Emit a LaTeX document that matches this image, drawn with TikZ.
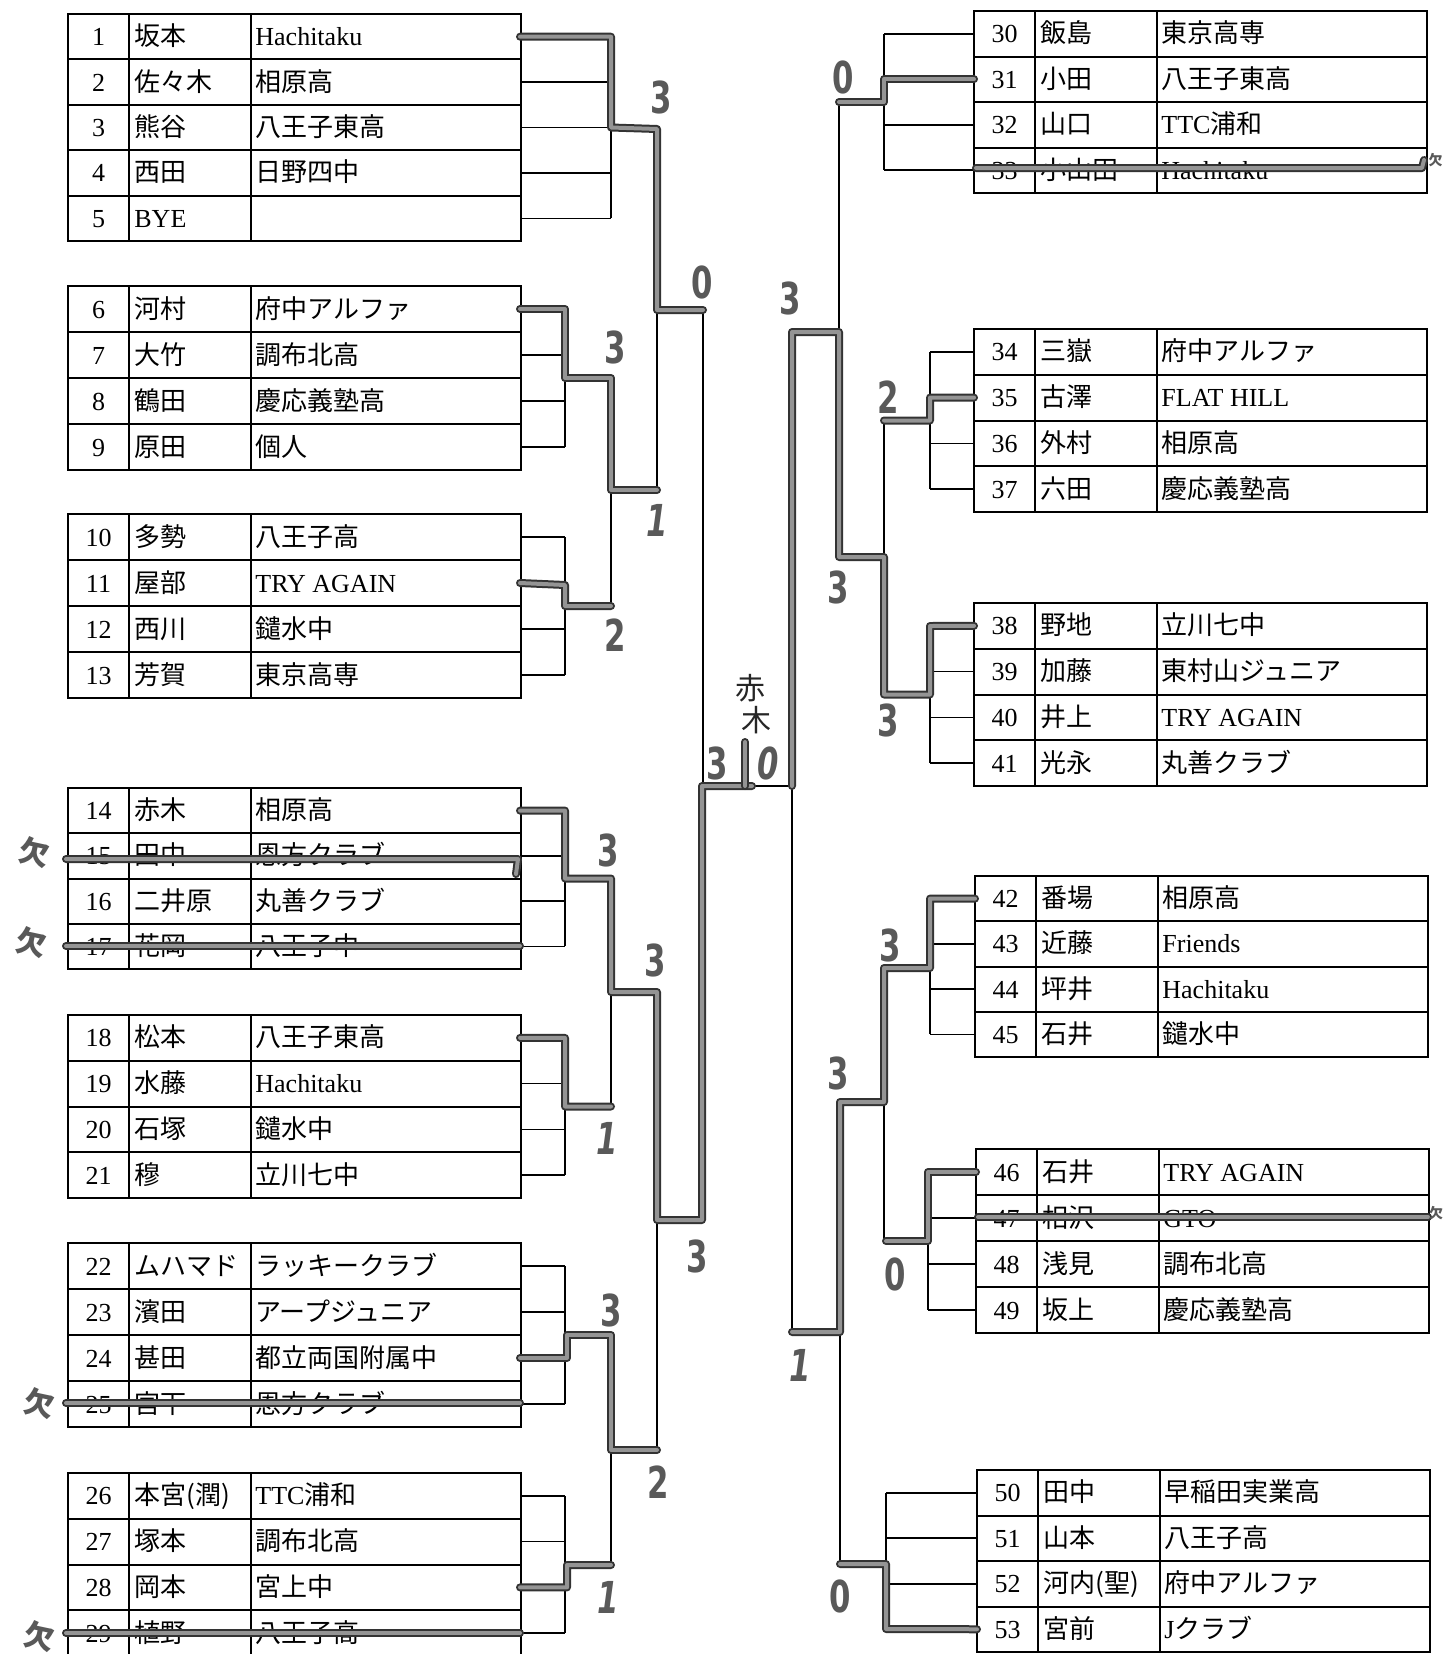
\documentclass[tikz,border=0pt]{standalone}
\usepackage{fontspec}
\setmainfont{Liberation Serif}
\newfontfamily\lat{Liberation Serif}
\newfontfamily\jp{Noto Sans CJK JP}
\newfontfamily\hand{DejaVu Sans}
\tikzset{
  tline/.style={line width=1pt, black},
  brl/.style={line width=0.8pt, black},
  hl/.style={draw=black!80, double=black!42, double distance=2pt, line width=1pt, line join=round, line cap=round},
  numtxt/.style={font=\lat\fontsize{13}{15}\selectfont, anchor=base, inner sep=0pt},
  celltxt/.style={font=\jp\fontsize{13}{15}\selectfont, anchor=base west, inner sep=0pt},
  hw/.style={font=\hand\bfseries\fontsize{22}{22}\selectfont, text=black!65, xscale=0.7, inner sep=0pt},
  hwi/.style={font=\hand\bfseries\itshape\fontsize{22}{22}\selectfont, text=black!65, xscale=0.7, inner sep=0pt},
  absmark/.style={font=\jp\bfseries\fontsize{15}{15}\selectfont, text=black!65, rotate=-12, inner sep=0pt},
  absmarksmall/.style={font=\jp\bfseries\fontsize{7}{7}\selectfont, text=black!65, inner sep=0pt},
  notetxt/.style={font=\jp\fontsize{15}{15}\selectfont, text=black!85, inner sep=0pt}
}
% #1 left x, #2 top, #3 row height, #4 anchor offset, #5 rows
\newcommand\tbl[5]{%
  \foreach \n/\nm/\sc [count=\k from 0] in {#5}{%
    \draw[tline] (#1,{#2+\k*#3}) rectangle ({#1+453},{#2+(\k+1)*#3});
    \draw[tline] ({#1+61},{#2+\k*#3}) -- ({#1+61},{#2+(\k+1)*#3});
    \draw[tline] ({#1+183},{#2+\k*#3}) -- ({#1+183},{#2+(\k+1)*#3});
    \coordinate (r\n) at ({#1+#4},{#2+(\k+0.5)*#3});
    \node[numtxt] (num\n) at ({#1+30.5},{#2+(\k+0.5)*#3+9}) {\n};
    \node[celltxt] (nm\n) at ({#1+66},{#2+(\k+0.5)*#3+9}) {\nm};
    \node[celltxt] (sc\n) at ({#1+187},{#2+(\k+0.5)*#3+9}) {\sc};
  }}
\begin{document}
\begin{tikzpicture}[x=0.5pt,y=-0.5pt]
\useasboundingbox (0,0) rectangle (1443,1654);
\fill[white] (0,0) rectangle (1443,1654);

% ---------- left tables ----------
\tbl{68}{14}{45.4}{452}{1/坂本/{\lat Hachitaku}, 2/佐々木/相原高, 3/熊谷/八王子東高, 4/西田/日野四中, 5/{\lat BYE}/{}}
\tbl{68}{286}{46}{452}{6/河村/府中アルファ, 7/大竹/調布北高, 8/鶴田/慶応義塾高, 9/原田/個人}
\tbl{68}{514}{46}{452}{10/多勢/八王子高, 11/屋部/{\lat TRY AGAIN}, 12/西川/鑓水中, 13/芳賀/東京高専}
\tbl{68}{788}{45.25}{452}{14/赤木/相原高, 15/田中/恩方クラブ, 16/二井原/丸善クラブ, 17/花岡/八王子中}
\tbl{68}{1015}{45.75}{452}{18/松本/八王子東高, 19/水藤/{\lat Hachitaku}, 20/石塚/鑓水中, 21/穆/立川七中}
\tbl{68}{1243}{46}{452}{22/ムハマド/ラッキークラブ, 23/濱田/アープジュニア, 24/甚田/都立両国附属中, 25/宮下/恩方クラブ}
\tbl{68}{1473}{45.75}{452}{26/本宮(潤)/{\lat TTC}浦和, 27/塚本/調布北高, 28/岡本/宮上中, 29/植野/八王子高}

% ---------- right tables ----------
\tbl{974}{11}{45.5}{0}{30/飯島/東京高専, 31/小田/八王子東高, 32/山口/{\lat TTC}浦和, 33/小山田/{\lat Hachitaku}}
\tbl{974}{329}{45.75}{0}{34/三嶽/府中アルファ, 35/古澤/{\lat FLAT HILL}, 36/外村/相原高, 37/六田/慶応義塾高}
\tbl{974}{603}{45.75}{0}{38/野地/立川七中, 39/加藤/東村山ジュニア, 40/井上/{\lat TRY AGAIN}, 41/光永/丸善クラブ}
\tbl{975}{876}{45.25}{0}{42/番場/相原高, 43/近藤/{\lat Friends}, 44/坪井/{\lat Hachitaku}, 45/石井/鑓水中}
\tbl{976}{1149}{46}{0}{46/石井/{\lat TRY AGAIN}, 47/相沢/{\lat GTO}, 48/浅見/調布北高, 49/坂上/慶応義塾高}
\tbl{977}{1470}{45.5}{0}{50/田中/早稲田実業高, 51/山本/八王子高, 52/河内(聖)/府中アルファ, 53/宮前/{\lat J}クラブ}

% ---------- thin bracket lines, left ----------
\foreach \i in {1,...,5} \draw[brl] (r\i) -- ++(91,0);
\foreach \i in {6,...,29} \draw[brl] (r\i) -- ++(45,0);
\draw[brl] (611,36.7) -- (611,218.3);
\draw[brl] (565,309) -- (565,447);
\draw[brl] (565,537) -- (565,675);
\draw[brl] (611,378) -- (611,606) (565,606) -- (611,606);
\draw[brl] (611,490) -- (657,490) (657,128) -- (657,490);
\draw[brl] (657,310) -- (703,310) (703,310) -- (703,1220);
\draw[brl] (565,810.6) -- (565,946.4) (565,878.5) -- (611,878.5) (611,878.5) -- (611,1106.5);
\draw[brl] (565,1037.9) -- (565,1175.1) (565,1106.5) -- (611,1106.5);
\draw[brl] (611,992) -- (657,992) (657,992) -- (657,1450);
\draw[brl] (565,1266) -- (565,1404) (565,1335) -- (611,1335) (611,1335) -- (611,1565);
\draw[brl] (565,1496) -- (565,1633.1) (565,1565) -- (611,1565);
\draw[brl] (611,1450) -- (657,1450) (657,1220) -- (703,1220);
\draw[brl] (703,786) -- (792,786);

% ---------- thin bracket lines, right ----------
\foreach \i in {30,...,33} \draw[brl] (r\i) -- ++(-90,0);
\foreach \i in {34,...,41} \draw[brl] (r\i) -- ++(-44,0);
\foreach \i in {42,...,45} \draw[brl] (r\i) -- ++(-45,0);
\foreach \i in {46,...,49} \draw[brl] (r\i) -- ++(-48,0);
\foreach \i in {50,...,53} \draw[brl] (r\i) -- ++(-91,0);
\draw[brl] (792,332) -- (792,1332);
\draw[brl] (792,332) -- (839,332) (839,102) -- (839,557);
\draw[brl] (839,102) -- (884,102) (884,33.75) -- (884,170.25);
\draw[brl] (839,557) -- (884,557) (884,420.5) -- (884,694.5);
\draw[brl] (884,420.5) -- (930,420.5) (930,352) -- (930,489);
\draw[brl] (884,694.5) -- (930,694.5) (930,626) -- (930,763);
\draw[brl] (792,1332) -- (840,1332) (840,1102) -- (840,1564);
\draw[brl] (840,1102) -- (884,1102) (884,968) -- (884,1241);
\draw[brl] (884,968) -- (930,968) (930,898.6) -- (930,1034.4);
\draw[brl] (884,1241) -- (928,1241) (928,1172) -- (928,1310);
\draw[brl] (840,1564) -- (886,1564) (886,1492.75) -- (886,1629);

% ---------- highlighted winner paths ----------
\draw[hl] (r1) -- (611,36.7) -- (611,127.5) -- (657,129) -- (657,310) -- (703,310);
\draw[hl] (r6) -- (565,309) -- (565,378) -- (611,378) -- (611,490) -- (657,490);
\draw[hl] (r11) -- (565,585) -- (565,606) -- (611,606);
\draw[hl] (r14) -- (565,810.6) -- (565,878.5) -- (611,878.5) -- (611,992) -- (657,992) -- (657,1220) -- (702,1220) -- (702,786) -- (752,786);
\draw[hl] (745,742) -- (745,786);
\draw[hl] (r18) -- (565,1037.9) -- (565,1106.5) -- (611,1106.5);
\draw[hl] (r24) -- (567,1358) -- (567,1335) -- (611,1335) -- (611,1450) -- (657,1450);
\draw[hl] (r28) -- (567,1587.4) -- (567,1565) -- (611,1565);
\draw[hl] (r31) -- (884,79.25) -- (884,102) -- (839,102);
\draw[hl] (r35) -- (930,397.6) -- (930,420.5) -- (884,420.5);
\draw[hl] (r38) -- (930,626) -- (930,694.5) -- (884,694.5) -- (884,557) -- (839,557) -- (839,332) -- (792,332) -- (792,786);
\draw[hl] (r42) -- (930,898.6) -- (930,968) -- (884,968) -- (884,1102) -- (840,1102) -- (840,1332) -- (792,1332);
\draw[hl] (r46) -- (928,1172) -- (928,1241) -- (886,1241);
\draw[hl] (r53) -- (886,1629) -- (886,1564) -- (840,1564);

% ---------- strike-throughs ----------
\draw[hl] (66,859) -- (518,859) -- (516,874);
\draw[hl] (66,946) -- (520,946);
\draw[hl] (66,1403) -- (520,1403);
\draw[hl] (66,1633) -- (520,1633);
\draw[hl] (976,168) -- (1422,168) -- (1424,160);
\draw[hl] (978,1217) -- (1428,1217);

\node[absmark] (m15) at (35,852) {欠};
\node[absmark] (m17) at (32,942) {欠};
\node[absmark] (m25) at (40,1403) {欠};
\node[absmark] (m29) at (40,1636) {欠};
\node[absmarksmall] (m33) at (1435.5,160) {欠};
\node[absmarksmall] (m47) at (1436,1213) {欠};

% ---------- hand-written scores ----------
\node[hw] (s1) at (661,97) {3};
\node[hw] (s2) at (702,282) {0};
\node[hw] (s3) at (615,347) {3};
\node[hwi] (s4) at (657,520) {1};
\node[hw] (s5) at (615,635) {2};
\node[hw] (s6) at (608,850) {3};
\node[hw] (s7) at (655,960) {3};
\node[hwi] (s8) at (607,1138) {1};
\node[hw] (s9) at (697,1256) {3};
\node[hw] (s10) at (611,1310) {3};
\node[hw] (s11) at (658,1482) {2};
\node[hwi] (s12) at (608,1597) {1};
\node[hw] (s13) at (717,763) {3};
\node[hwi] (s14) at (768,763) {0};
\node[notetxt] (akagi1) at (750,688) {赤};
\node[notetxt] (akagi2) at (756,720) {木};
\node[hw] (s15) at (843,77) {0};
\node[hw] (s16) at (790,298) {3};
\node[hw] (s17) at (888,397) {2};
\node[hw] (s18) at (838,587) {3};
\node[hw] (s19) at (888,720) {3};
\node[hw] (s20) at (890,945) {3};
\node[hw] (s21) at (838,1073) {3};
\node[hw] (s22) at (895,1274) {0};
\node[hwi] (s23) at (800,1365) {1};
\node[hw] (s24) at (840,1596) {0};
\end{tikzpicture}
\end{document}
